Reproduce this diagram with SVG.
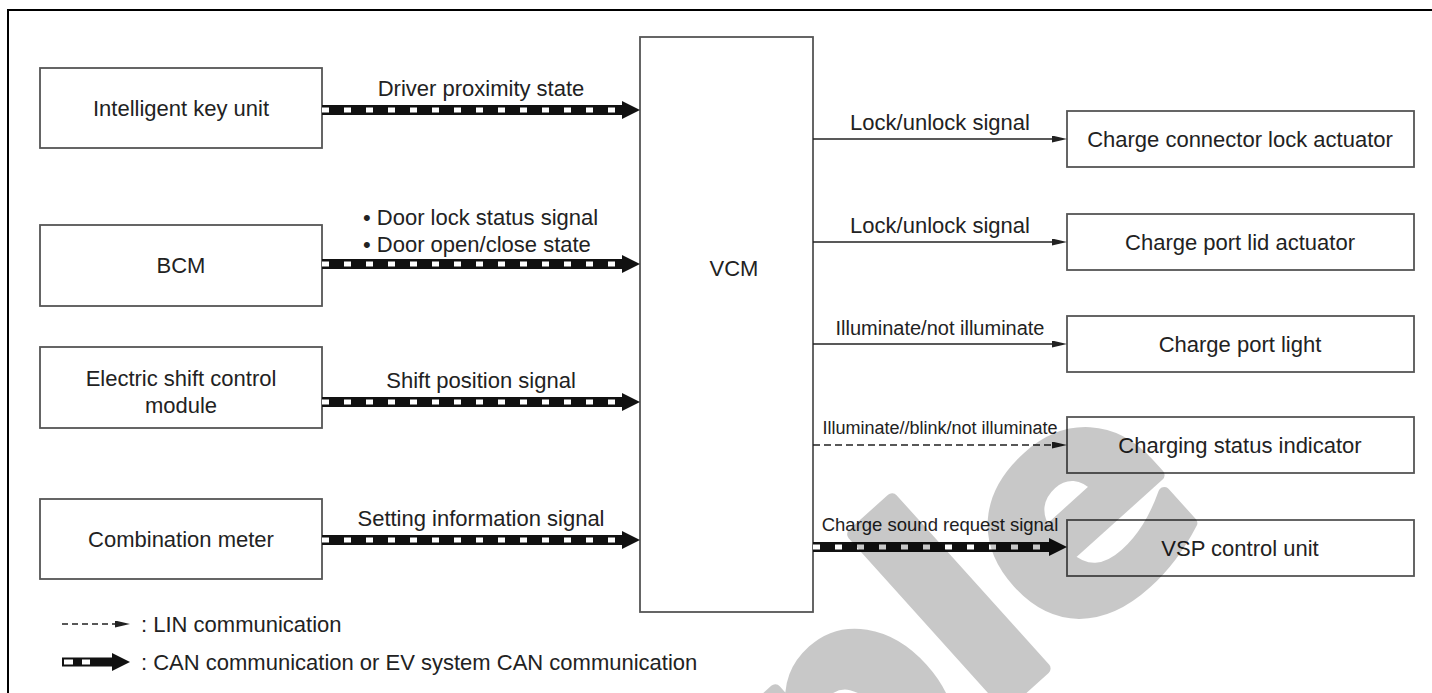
<svg xmlns="http://www.w3.org/2000/svg" width="1432" height="693" viewBox="0 0 1432 693">
<style>
text{font-family:"Liberation Sans",Arial,sans-serif;fill:#222}
.lbl{font-size:22px}
.mid{text-anchor:middle}
.box{fill:none;stroke:#555;stroke-width:1.8}
.thin{stroke:#222;stroke-width:1.5;fill:none}
.lin{stroke:#222;stroke-width:1.3;fill:none;stroke-dasharray:7 4}
.canb{stroke:#111;stroke-width:10;fill:none}
.canw{stroke:#fff;stroke-width:5;fill:none;stroke-dasharray:7 15}
</style>
<defs>
<marker id="ah" viewBox="0 0 15 7" refX="7" refY="3.5" markerWidth="15" markerHeight="7" markerUnits="userSpaceOnUse" orient="auto"><path d="M0,0 L15,3.5 L0,7 z" fill="#222"/></marker>
<marker id="ch" viewBox="0 0 18 18" refX="2" refY="9" markerWidth="18" markerHeight="18" markerUnits="userSpaceOnUse" orient="auto"><path d="M0,0 L18,9 L0,18 z" fill="#111"/></marker>
</defs>
<rect x="8" y="10" width="1440" height="700" fill="none" stroke="#000" stroke-width="2"/>

<g id="node-ikey"><rect class="box" x="40" y="68" width="282" height="80"/><text class="lbl mid" x="181" y="116">Intelligent key unit</text></g>
<g id="node-bcm"><rect class="box" x="40" y="225" width="282" height="81"/><text class="lbl mid" x="181" y="273">BCM</text></g>
<g id="node-shift"><rect class="box" x="40" y="347" width="282" height="81"/><text class="lbl mid" x="181" y="386">Electric shift control</text><text class="lbl mid" x="181" y="413">module</text></g>
<g id="node-meter"><rect class="box" x="40" y="499" width="282" height="80"/><text class="lbl mid" x="181" y="547">Combination meter</text></g>
<g id="node-vcm"><rect class="box" x="640" y="37" width="173" height="575"/><text class="lbl mid" x="734" y="276">VCM</text></g>
<g id="node-cclock"><rect class="box" x="1067" y="111" width="347" height="56"/><text class="lbl mid" x="1240" y="147">Charge connector lock actuator</text></g>
<g id="node-lid"><rect class="box" x="1067" y="214" width="347" height="56"/><text class="lbl mid" x="1240" y="250">Charge port lid actuator</text></g>
<g id="node-light"><rect class="box" x="1067" y="316" width="347" height="56"/><text class="lbl mid" x="1240" y="352">Charge port light</text></g>
<g id="node-ind"><rect class="box" x="1067" y="417" width="347" height="56"/><text class="lbl mid" x="1240" y="453">Charging status indicator</text></g>
<g id="node-vsp"><rect class="box" x="1067" y="520" width="347" height="56"/><text class="lbl mid" x="1240" y="556">VSP control unit</text></g>

<g id="connectors">
<line class="canb" x1="322" y1="110" x2="624" y2="110" marker-end="url(#ch)"/><line class="canw" x1="322" y1="110" x2="622" y2="110"/>
<text class="lbl mid" x="481" y="96">Driver proximity state</text>
<line class="canb" x1="322" y1="264" x2="624" y2="264" marker-end="url(#ch)"/><line class="canw" x1="322" y1="264" x2="622" y2="264"/>
<text class="lbl" x="363" y="225">• Door lock status signal</text>
<text class="lbl" x="363" y="252">• Door open/close state</text>
<line class="canb" x1="322" y1="402" x2="624" y2="402" marker-end="url(#ch)"/><line class="canw" x1="322" y1="402" x2="622" y2="402"/>
<text class="lbl mid" x="481" y="388">Shift position signal</text>
<line class="canb" x1="322" y1="540" x2="624" y2="540" marker-end="url(#ch)"/><line class="canw" x1="322" y1="540" x2="622" y2="540"/>
<text class="lbl mid" x="481" y="526">Setting information signal</text>

<line class="thin" x1="813" y1="139" x2="1059" y2="139" marker-end="url(#ah)"/>
<text class="lbl mid" x="940" y="130">Lock/unlock signal</text>
<line class="thin" x1="813" y1="242" x2="1059" y2="242" marker-end="url(#ah)"/>
<text class="lbl mid" x="940" y="233">Lock/unlock signal</text>
<line class="thin" x1="813" y1="344" x2="1059" y2="344" marker-end="url(#ah)"/>
<text class="mid" x="940" y="335" font-size="20">Illuminate/not illuminate</text>
<line class="lin" x1="813" y1="445" x2="1059" y2="445" marker-end="url(#ah)"/>
<text class="mid" x="940" y="434" font-size="18">Illuminate//blink/not illuminate</text>
<line class="canb" x1="813" y1="547" x2="1051" y2="547" marker-end="url(#ch)"/><line class="canw" x1="813" y1="547" x2="1049" y2="547"/>
<text class="mid" x="940" y="531" font-size="18.5">Charge sound request signal</text>
</g>

<g id="legend">
<line class="lin" x1="62" y1="624" x2="122" y2="624" style="stroke-dasharray:6 4" marker-end="url(#ah)"/>
<text class="lbl" x="141" y="632">: LIN communication</text>
<rect x="62" y="657.5" width="52" height="9" fill="#111"/>
<rect x="64" y="659.5" width="9" height="5" fill="#fff"/>
<rect x="82" y="659.5" width="8" height="5" fill="#fff"/>
<path d="M112,653 L130,662 L112,671 z" fill="#111"/>
<text class="lbl" x="141" y="670">: CAN communication or EV system CAN communication</text>
</g>

<g id="watermark" opacity="0.21">
<text transform="translate(284,1353.4) rotate(-42)" font-size="300" font-weight="bold" style="fill:#000;font-family:'DejaVu Sans',sans-serif" stroke="#000" stroke-width="12" stroke-linejoin="round">Sample</text>
</g>
</svg>
